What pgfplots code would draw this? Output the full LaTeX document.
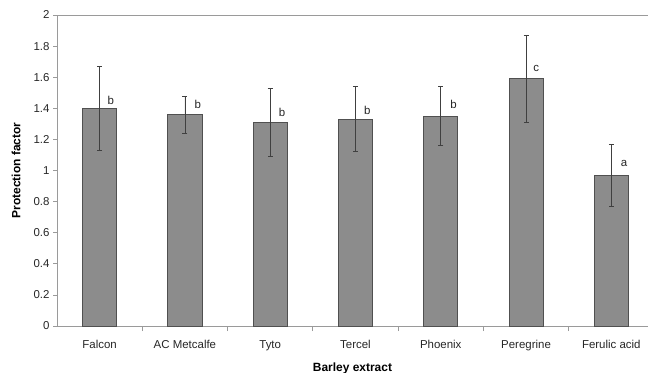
\documentclass[border=0pt]{standalone}
\usepackage{fontspec}
\setmainfont{Liberation Sans}
\usepackage{pgfplots}
\usepackage{pgfplotstable}
\pgfplotsset{compat=1.18}
\definecolor{barfill}{HTML}{8C8C8C}
\definecolor{bardraw}{HTML}{505050}
\definecolor{axisgray}{HTML}{9A9A9A}
\pgfplotstableread{
x y ep em
0 1.40 0.27 0.27
1 1.36 0.12 0.12
2 1.31 0.22 0.22
3 1.33 0.21 0.21
4 1.35 0.19 0.19
5 1.59 0.28 0.28
6 0.97 0.20 0.20
}\bars
\pgfplotstableread{
x y lab
0.13 1.453 b
1.15 1.427 b
2.14 1.376 b
3.14 1.389 b
4.15 1.427 b
5.12 1.653 c
6.15 1.048 a
}\letters
\begin{document}
\begin{tikzpicture}
\useasboundingbox (-57bp,-47bp) rectangle (591bp,326bp);
\begin{axis}[
  at={(0,0)}, anchor=south west,
  scale only axis, width=591bp, height=311bp,
  xmin=-0.5, xmax=6.43, ymin=0, ymax=2,
  axis x line*=bottom, axis y line*=left,
  axis line style={draw=axisgray, line width=0.8pt},
  tick style={draw=axisgray, line width=0.8pt},
  tick align=outside,
  major tick length=4bp, minor tick length=5bp,
  xtick={0,...,6},
  xticklabels={Falcon, AC Metcalfe, Tyto, Tercel, Phoenix, Peregrine, Ferulic acid},
  major x tick style={draw=none},
  minor xtick={0.5,1.5,...,5.5},
  ytick={0,0.2,...,1.8},
  extra y ticks={2},
  extra y tick style={grid=major, major grid style={draw=axisgray, line width=0.8pt}},
  /pgf/number format/assume math mode=true,
  ticklabel style={font=\fontsize{11.5}{13}\selectfont, text=black!85},
  xticklabel style={yshift=-7bp},
  xlabel={Barley extract},
  ylabel={Protection factor},
  label style={font=\fontsize{12}{14}\selectfont\bfseries},
  xlabel style={at={(axis description cs:0.5,0)}, anchor=north, yshift=-33bp},
  ylabel style={at={(axis description cs:0,0.5)}, anchor=south, xshift=0bp, yshift=33bp},
  clip=false,
]
\addplot[ybar, bar width=0.4, fill=barfill, draw=bardraw, line width=0.8pt,
  error bars/.cd, y dir=both, y explicit,
  error bar style={draw=black!75, line width=0.7pt},
  error mark options={rotate=90, mark size=2.5bp, draw=black!75, line width=0.7pt}]
  table[x=x, y=y, y error plus=ep, y error minus=em]{\bars};
\addplot[only marks, mark=none, nodes near coords, point meta=explicit symbolic,
  nodes near coords align={center},
  every node near coord/.append style={anchor=center, inner sep=0pt, font=\fontsize{11.5}{13}\selectfont, text=black!85}]
  table[x=x, y=y, meta=lab]{\letters};
\end{axis}
\end{tikzpicture}
\end{document}
